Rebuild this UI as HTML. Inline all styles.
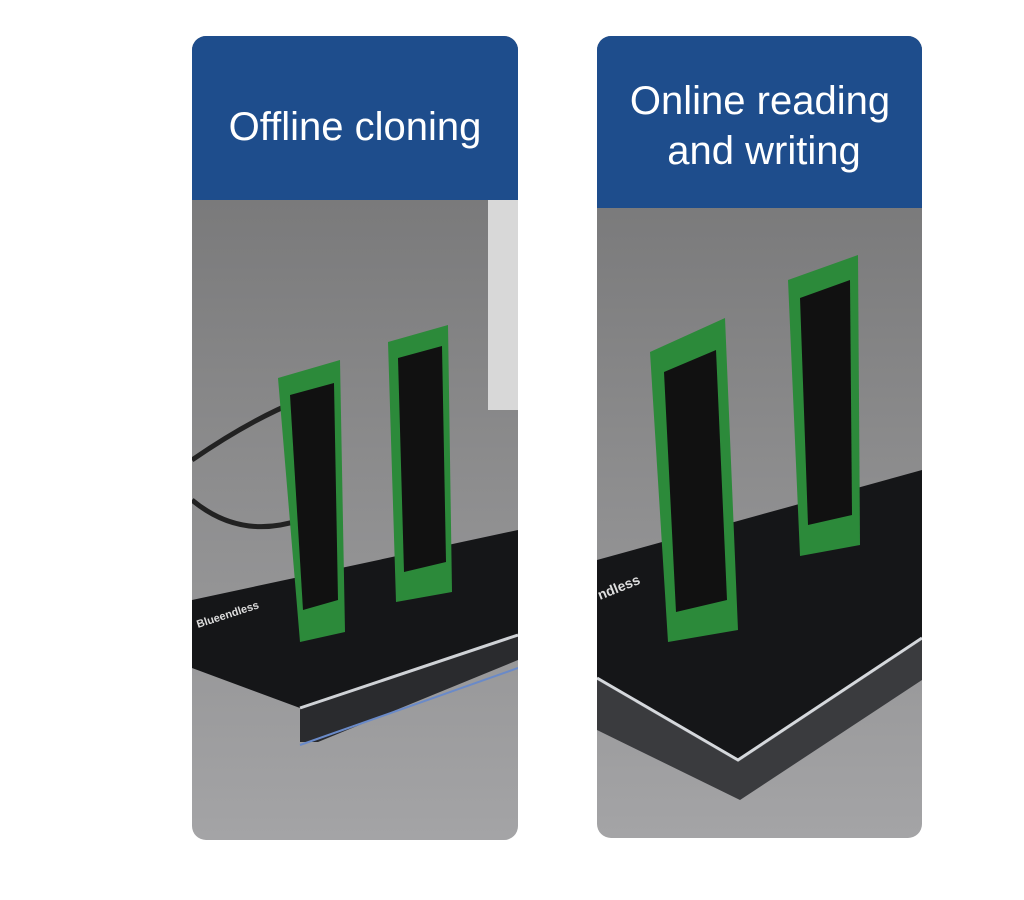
<!DOCTYPE html>
<html><head><meta charset="utf-8"><style>
body{margin:0;width:1024px;height:900px;background:#fff;overflow:hidden;font-family:"Liberation Sans",sans-serif}
svg{position:absolute;left:0;top:0}
</style></head><body>
<svg width="1024" height="900" viewBox="0 0 1024 900">
<defs>
<linearGradient id="bg" x1="0" y1="0" x2="0" y2="1"><stop offset="0" stop-color="#6f6f70"/><stop offset="0.5" stop-color="#8a8a8b"/><stop offset="1" stop-color="#a4a4a6"/></linearGradient>
<clipPath id="c1"><rect x="192" y="36" width="326" height="804" rx="14"/></clipPath>
<clipPath id="c2"><rect x="597" y="36" width="325" height="802" rx="14"/></clipPath>
</defs>
<!-- left card -->
<g clip-path="url(#c1)">
<rect x="192" y="36" width="326" height="804" fill="url(#bg)"/>
<rect x="488" y="200" width="30" height="210" fill="#d8d8d8"/>
<path d="M192 460 Q250 420 300 400 M192 500 Q240 540 300 520" stroke="#222" stroke-width="5" fill="none"/>
<polygon points="192,600 518,530 518,635 300,708 192,668" fill="#151618"/>
<polygon points="300,708 518,635 518,660 318,742 300,742" fill="#2a2b2e"/>
<polyline points="300,708 518,635" stroke="#cfd2d6" stroke-width="3" fill="none"/>
<polyline points="300,745 518,668" stroke="#6a8ac8" stroke-width="2" fill="none"/>
<polygon points="278,378 340,360 345,632 300,642" fill="#2c8a3a"/>
<polygon points="290,395 334,383 338,600 303,610" fill="#111"/>
<polygon points="388,342 448,325 452,592 396,602" fill="#2c8a3a"/>
<polygon points="398,358 442,346 446,562 404,572" fill="#111"/>
<text x="198" y="628" font-size="11" fill="#ddd" font-weight="bold" transform="rotate(-18 198 628)">Blueendless</text>
<rect x="192" y="36" width="326" height="164" fill="#1e4d8c"/>
<text x="355" y="140" font-size="40" fill="#fff" text-anchor="middle">Offline cloning</text>
</g>
<!-- right card -->
<g clip-path="url(#c2)">
<rect x="597" y="36" width="325" height="802" fill="url(#bg)"/>
<polygon points="597,560 922,470 922,640 738,762 597,680" fill="#151618"/>
<polygon points="597,680 738,762 922,640 922,680 740,800 597,730" fill="#3a3b3e"/>
<polyline points="597,678 738,760 922,638" stroke="#d5d8dc" stroke-width="3" fill="none"/>
<polygon points="650,352 725,318 738,630 668,642" fill="#2c8a3a"/>
<polygon points="664,372 716,350 727,600 676,612" fill="#111"/>
<polygon points="788,280 858,255 860,545 800,556" fill="#2c8a3a"/>
<polygon points="800,298 850,280 852,515 808,525" fill="#111"/>
<text x="600" y="600" font-size="14" fill="#ddd" font-weight="bold" transform="rotate(-22 600 600)">ndless</text>
<rect x="597" y="36" width="325" height="172" fill="#1e4d8c"/>
<text x="760" y="114" font-size="40" fill="#fff" text-anchor="middle">Online reading</text>
<text x="764" y="164" font-size="40" fill="#fff" text-anchor="middle">and writing</text>
</g>
</svg>
</body></html>
